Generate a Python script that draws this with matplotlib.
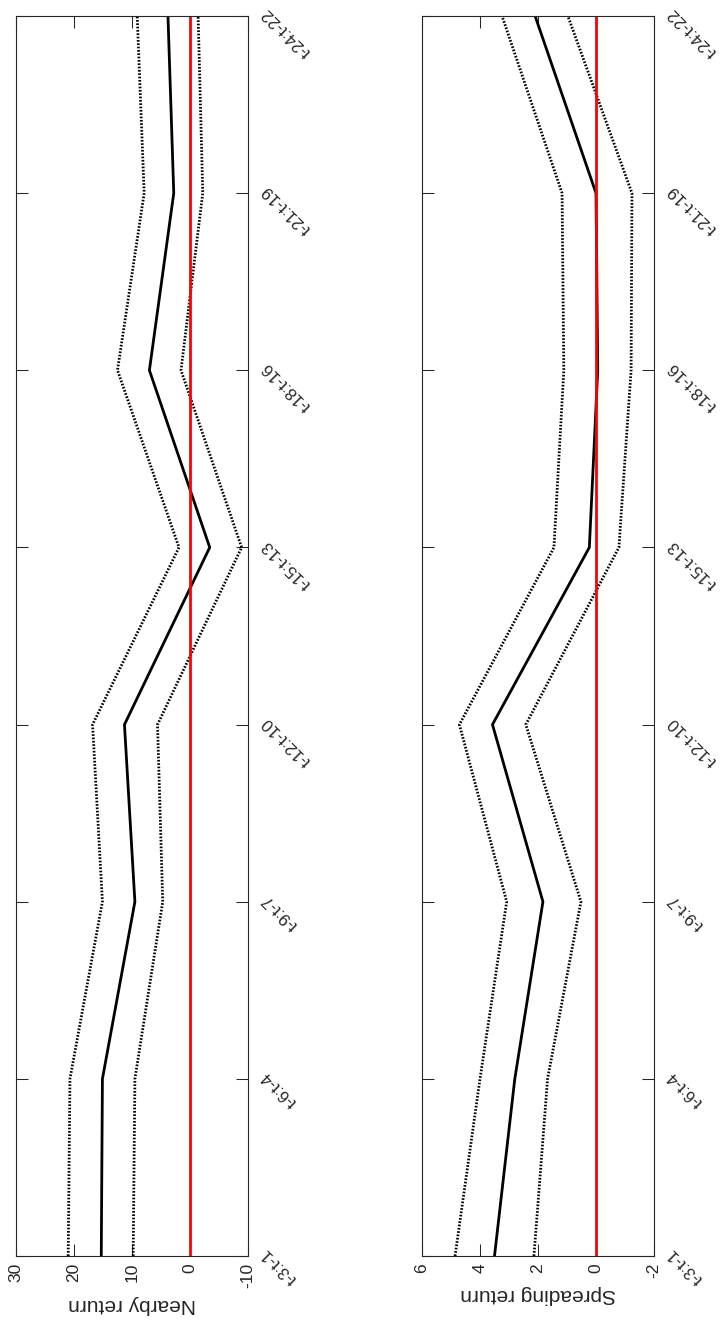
import numpy as np
import matplotlib
matplotlib.use("Agg")
import matplotlib.pyplot as plt

plt.rcParams["font.family"] = ["Liberation Sans", "DejaVu Sans"]
plt.rcParams["axes.unicode_minus"] = False

# lag windows, bottom (t-3:t-1) to top (t-24:t-22)
lag_labels = ["t-3:t-1", "t-6:t-4", "t-9:t-7", "t-12:t-10",
              "t-15:t-13", "t-18:t-16", "t-21:t-19", "t-24:t-22"]

nearby_mean = [15.3, 15.1, 9.5, 11.3, -3.4, 7.0, 2.8, 3.8]
nearby_upper = [21.0, 20.7, 15.1, 16.8, 1.9, 12.5, 7.9, 9.1]
nearby_lower = [9.8, 9.5, 4.7, 5.6, -8.9, 1.55, -2.2, -1.4]

spreading_mean = [3.5, 2.8, 1.83, 3.57, 0.23, -0.06, 0.0, 2.1]
spreading_upper = [4.86, 4.0, 3.08, 4.71, 1.45, 1.11, 1.17, 3.24]
spreading_lower = [2.14, 1.67, 0.52, 2.42, -0.79, -1.21, -1.24, 0.97]

nearby_ticks = [30, 20, 10, 0, -10]
spreading_ticks = [6, 4, 2, 0, -2]

AX_COLOR = "#262626"
DOTTED = (0, (0.6, 0.6))


def draw_panel(ax, mean, upper, lower, ticks, label):
    positions = np.arange(len(lag_labels))

    ax.plot(upper, positions, color="k", lw=2.0, linestyle=DOTTED)
    ax.plot(lower, positions, color="k", lw=2.0, linestyle=DOTTED)
    ax.plot(mean, positions, color="k", lw=2.0)
    ax.axvline(0, color="red", lw=2.0)

    # value axis runs right-to-left, lags bottom-to-top
    ax.set_xlim(ticks[0], ticks[-1])
    ax.set_ylim(positions[0], positions[-1])

    ax.set_xticks(ticks)
    ax.set_xticklabels([str(t) for t in ticks], rotation=90)
    ax.set_yticks(positions)
    ax.set_yticklabels(lag_labels, rotation=135, ha="right", va="top",
                       rotation_mode="anchor")

    ax.tick_params(direction="in", length=8.5, width=0.75, colors=AX_COLOR,
                   labelsize=12.5, top=True, bottom=True, left=True, right=True,
                   labelleft=False, labelright=True)
    ax.tick_params(axis="y", pad=8, labelsize=12)
    ax.tick_params(axis="x", pad=5)

    for spine in ax.spines.values():
        spine.set_color(AX_COLOR)
        spine.set_linewidth(0.8)

    ax.set_xlabel(label, rotation=180, fontsize=15, color=AX_COLOR, labelpad=5)


fig = plt.figure(figsize=(7.25, 13.22), dpi=100)

ax_nearby = fig.add_axes([16 / 725, 66 / 1322, 232 / 725, 1240 / 1322])
ax_spread = fig.add_axes([422 / 725, 66 / 1322, 232 / 725, 1240 / 1322])

draw_panel(ax_nearby, nearby_mean, nearby_upper, nearby_lower,
           nearby_ticks, "Nearby return")
draw_panel(ax_spread, spreading_mean, spreading_upper, spreading_lower,
           spreading_ticks, "Spreading return")

fig.savefig("out.png", dpi=100)
